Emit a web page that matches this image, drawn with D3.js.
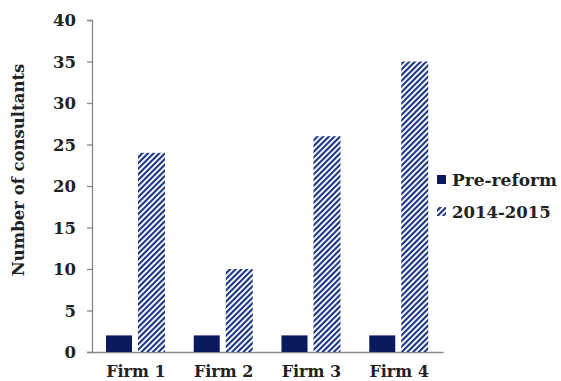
<!DOCTYPE html>
<html><head><meta charset="utf-8">
<script src="https://cdn.jsdelivr.net/npm/d3@7"></script>
<style>body{margin:0;background:#fff}</style>
</head><body>
<svg id="c" width="561" height="381"></svg>
<script>
const categories = ["Firm 1", "Firm 2", "Firm 3", "Firm 4"];
const seriesNames = ["Pre-reform", "2014-2015"];
const preReform = [2, 2, 2, 2];
const y2014 = [24, 10, 26, 35];
const yTicks = [0, 5, 10, 15, 20, 25, 30, 35, 40];

(function () {
const navy = "#0b1a5e";
const font = "'DejaVu Serif', 'Liberation Serif', serif";
const svg = d3.select("#c");
const defs = svg.append("defs");
const pat = defs.append("pattern").attr("id", "hatch").attr("patternUnits", "userSpaceOnUse")
  .attr("width", 4).attr("height", 4).attr("patternTransform", "rotate(45)");
pat.append("rect").attr("width", 4).attr("height", 4).attr("fill", "#fff");
pat.append("rect").attr("x", 0).attr("width", 2.1).attr("height", 4).attr("fill", "#1b3585");

const mLeft = 92, mRight = 443, mTop = 20, mBottom = 352;
const x = d3.scaleBand().domain(categories).range([mLeft, mRight]);
const y = d3.scaleLinear().domain([0, 40]).range([mBottom, mTop]);

const yAxis = svg.append("g").attr("transform", `translate(${mLeft},0)`)
  .call(d3.axisLeft(y).tickValues(yTicks).tickSize(5).tickPadding(11));
yAxis.select(".domain").attr("stroke", "#888").attr("stroke-width", 1.3);
yAxis.selectAll(".tick line").attr("stroke", "#888").attr("stroke-width", 1.3);
yAxis.selectAll(".tick text").attr("font-family", font).attr("font-weight", "bold")
  .attr("font-size", 16.5).attr("fill", "#222").attr("dy", "0.36em");

const xAxis = svg.append("g").attr("transform", `translate(0,${mBottom})`)
  .call(d3.axisBottom(x).tickSize(0).tickPadding(14));
xAxis.select(".domain").attr("stroke", "#888").attr("stroke-width", 1.3);
xAxis.selectAll(".tick text").attr("font-family", font).attr("font-weight", "bold")
  .attr("font-size", 16).attr("fill", "#222");

const bw = 26, off1 = 14, gap = 6;
svg.append("g").selectAll("rect").data(categories).join("rect")
  .attr("x", d => x(d) + off1).attr("width", bw)
  .attr("y", (d, i) => y(preReform[i])).attr("height", (d, i) => mBottom - y(preReform[i]))
  .attr("fill", navy);
svg.append("g").selectAll("rect").data(categories).join("rect")
  .attr("x", d => x(d) + off1 + bw + gap).attr("width", bw + 1)
  .attr("y", (d, i) => y(y2014[i])).attr("height", (d, i) => mBottom - y(y2014[i]))
  .attr("fill", "url(#hatch)");

svg.append("text").attr("transform", `translate(24,170) rotate(-90)`)
  .attr("text-anchor", "middle").attr("font-family", font).attr("font-weight", "bold")
  .attr("font-size", 16.5).attr("fill", "#222").text("Number of consultants");

const lg = svg.append("g").attr("transform", "translate(437,0)");
lg.append("rect").attr("x", 0).attr("y", 175).attr("width", 9).attr("height", 9).attr("fill", navy);
lg.append("text").attr("x", 15).attr("y", 186).attr("font-family", font).attr("font-weight", "bold")
  .attr("font-size", 17).attr("fill", "#222").text(seriesNames[0]);
lg.append("rect").attr("x", 0).attr("y", 207).attr("width", 9).attr("height", 9).attr("fill", "url(#hatch)");
lg.append("text").attr("x", 15).attr("y", 218).attr("font-family", font).attr("font-weight", "bold")
  .attr("font-size", 16.5).attr("fill", "#222").text(seriesNames[1]);
})();
</script>
</body></html>
